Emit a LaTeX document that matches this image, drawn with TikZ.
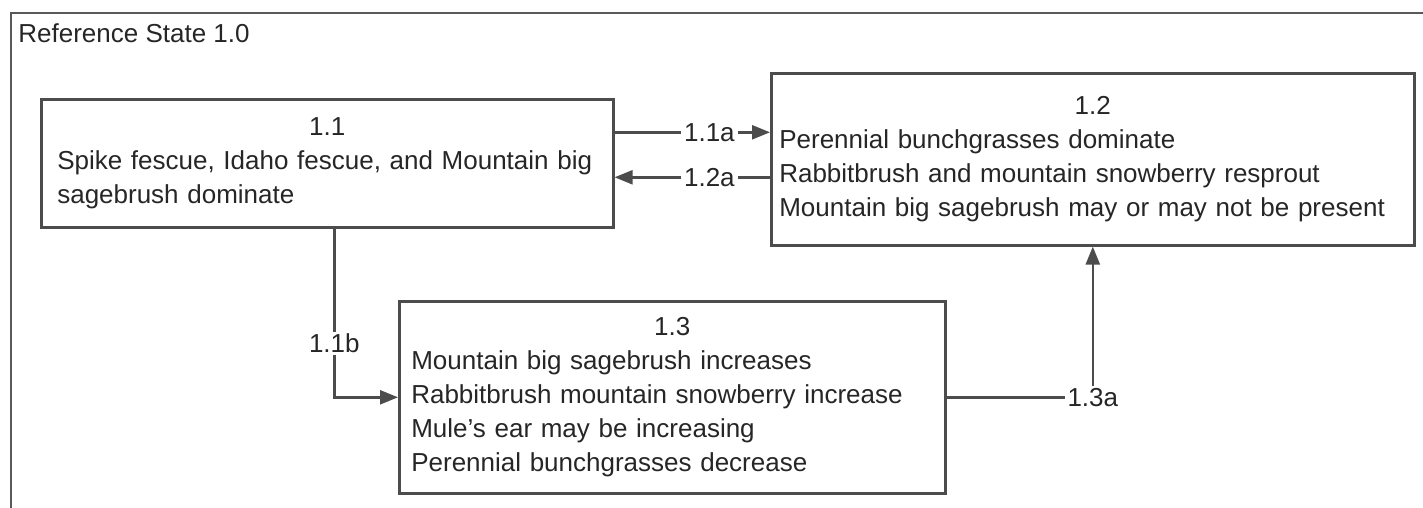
\documentclass[tikz,border=0pt]{standalone}
\usepackage{fontspec}
\setmainfont{Liberation Sans}
\usetikzlibrary{arrows.meta,positioning}
\tikzset{
  statebox/.style = {draw=black!70, line width=1.3pt, fill=white,
                     anchor=north west, align=left, inner ysep=0pt,
                     text=black!85, font=\fontsize{13}{17}\selectfont},
  frameline/.style = {draw=black!65, line width=1.4pt},
  statetitle/.style = {anchor=base west, inner sep=0pt, text=black!85,
                       font=\fontsize{13}{17}\selectfont},
  trans/.style    = {-{Triangle[length=9pt,width=7pt]}, draw=black!70,
                     line width=1.2pt},
  translab/.style = {fill=white, inner xsep=1.5pt, inner ysep=1pt,
                     text=black!85, font=\fontsize{13}{17}\selectfont},
}
\newcommand{\statehead}[1]{\makebox[\hsize]{#1}\\}

\begin{document}
\begin{tikzpicture}[x=0.5pt, y=-0.5pt]
  \useasboundingbox (0,0) rectangle (1423,508);
  \clip (0,0) rectangle (1423,508);

  % outer state frame, cut by the page edge
  \draw[frameline] (11,13) rectangle (1450,540);
  \node[statetitle] (reftitle) at (18,43) {Reference State 1.0};

  % community phases
  \node[statebox, inner xsep=8pt, text width=270pt, minimum height=64pt]
    (s11) at (40,98)
    {\statehead{1.1}Spike fescue, Idaho fescue, and Mountain big\\
     sagebrush dominate};
  \node[statebox, inner xsep=4pt, text width=313.5pt, minimum height=86pt]
    (s12) at (770,72)
    {\statehead{1.2}Perennial bunchgrasses dominate\\
     Rabbitbrush and mountain snowberry resprout\\
     Mountain big sagebrush may or may not be present};
  \node[statebox, inner xsep=6pt, text width=261pt, minimum height=96pt]
    (s13) at (398,300)
    {\statehead{1.3}Mountain big sagebrush increases\\
     Rabbitbrush mountain snowberry increase\\
     Mule's ear may be increasing\\
     Perennial bunchgrasses decrease};

  % pathways
  \draw[trans] ([yshift=15.5pt]s11.east) -- ([yshift=15.5pt]s11.east -| s12.west)
    node[translab, pos=0.61] (p11a) {1.1a};
  \draw[trans] ([yshift=-7pt]s11.east -| s12.west) -- ([yshift=-7pt]s11.east)
    node[translab, pos=0.39] (p12a) {1.2a};
  \draw[trans] ([xshift=3.5pt]s11.south) |- (s13.west)
    node[translab, pos=0.34] (p11b) {1.1b};
  \draw[trans] (s13.east) -| (s12.south)
    node[translab, pos=0.5] (p13a) {1.3a};
\end{tikzpicture}
\end{document}
